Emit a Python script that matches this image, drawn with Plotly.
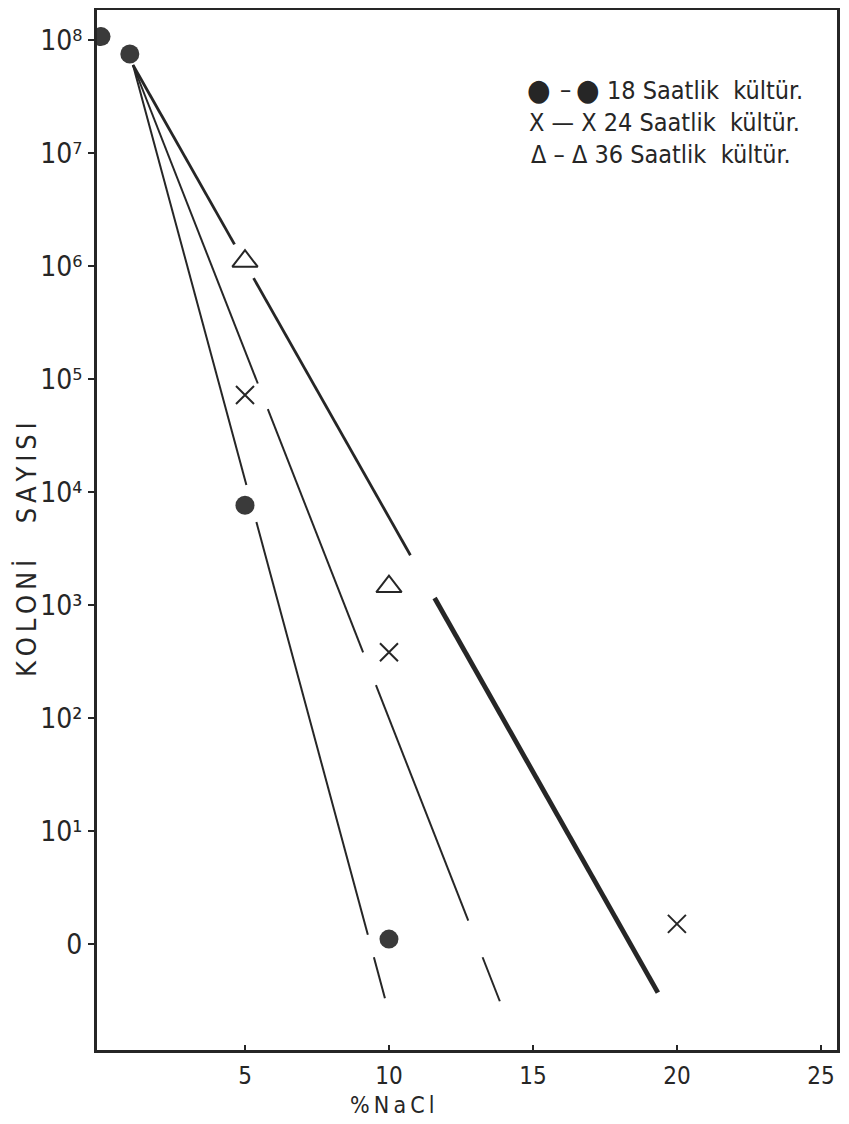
import numpy as np
import plotly.graph_objects as go

# ---- data ----
nacl_18 = [0, 1, 5, 10]
koloni_18 = [1.07e8, 7.5e7, 7.6e3, 1.1]
nacl_24 = [5, 10, 20]
koloni_24 = [7.2e4, 3.8e2, 1.5]
nacl_36 = [5, 10]
koloni_36 = [1.1e6, 1.45e3]

# drawn fit lines: common start, individual end points
fit_start_x = 1.11
fit_start_val = 6.0e7
fit_end_x = {"18": 9.86, "24": 13.85, "36": 19.34}
fit_end_val = {"18": 0.33, "24": 0.31, "36": 0.37}
# values where each drawn line is interrupted (upper, lower)
gaps = {
    "18": [(1.15e4, 5.4e3), (1.2, 0.76)],
    "24": [(9.1e4, 5.4e4), (3.8e2, 1.95e2), (1.6, 0.76)],
    "36": [(1.55e6, 7.8e5), (2.75e3, 1.15e3)],
}
seg_widths = {"18": [2, 2, 2], "24": [2, 2, 2, 2], "36": [2.8, 2.8, 4.8]}

y_tickvals = [1, 1e1, 1e2, 1e3, 1e4, 1e5, 1e6, 1e7, 1e8]
y_ticktext = ["0", "10¹", "10²", "10³", "10⁴", "10⁵", "10⁶", "10⁷", "10⁸"]
x_tickvals = [5, 10, 15, 20, 25]
x_ticktext = ["5", "10", "15", "20", "25"]

legend_texts = ["18 Saatlik  kültür.", "X — X 24 Saatlik  kültür.", "Δ – Δ 36 Saatlik  kültür."]

INK = "#262626"
FONT = "DejaVu Sans Condensed, Liberation Sans Narrow, sans-serif"

fig = go.Figure()

def x_at(key, val):
    e0, e1 = np.log10(fit_start_val), np.log10(fit_end_val[key])
    t = (np.log10(val) - e0) / (e1 - e0)
    return fit_start_x + t * (fit_end_x[key] - fit_start_x)

for key in ["18", "24", "36"]:
    pts = [fit_start_val]
    for a, b in gaps[key]:
        pts += [a, b]
    pts.append(fit_end_val[key])
    for i in range(0, len(pts), 2):
        v0, v1 = pts[i], pts[i + 1]
        fig.add_trace(go.Scatter(
            x=[x_at(key, v0), x_at(key, v1)], y=[v0, v1], mode="lines",
            line=dict(color=INK, width=seg_widths[key][i // 2]),
            showlegend=False, hoverinfo="skip"))

fig.add_trace(go.Scatter(x=nacl_18, y=koloni_18, mode="markers", name="18 Saatlik kültür",
                         marker=dict(symbol="circle", size=19, color="#3a3a3a"), showlegend=False))
fig.add_trace(go.Scatter(x=nacl_24, y=koloni_24, mode="markers", name="24 Saatlik kültür",
                         marker=dict(symbol="x-thin-open", size=18, color=INK,
                                     line=dict(color=INK, width=2)),
                         showlegend=False))
fig.add_trace(go.Scatter(x=nacl_36, y=koloni_36, mode="markers", name="36 Saatlik kültür",
                         marker=dict(symbol="triangle-up-open", size=22, color=INK,
                                     line=dict(color=INK, width=2)), showlegend=False))

# page offset of the figure (browser body margin)
OFF = 8
W, H = 849, 1124
L, R, T, B = 89, 20, 2, 82
pw, ph = W - L - R, H - T - B

def px(x):
    return (x - OFF - L) / pw

def py(y):
    return (H - B - (y - OFF)) / ph

annots = []
def ann(x, y, text, size, **kw):
    d = dict(x=px(x), y=py(y), xref="paper", yref="paper", text=text, showarrow=False,
             xanchor=kw.pop("xanchor", "center"), yanchor="middle",
             font=dict(family=FONT, size=size, color=INK))
    d.update(kw)
    annots.append(d)

# legend drawn as in the original
ann(539, 90, "●", 30)
ann(565, 90, "–", 25)
ann(588, 90, "●", 30)
ann(605, 91, legend_texts[0], 25, xanchor="left")
ann(527, 123, legend_texts[1], 25, xanchor="left")
ann(529, 155, legend_texts[2], 25, xanchor="left")

ann(27, 550, "K\u2009O\u2009L\u2009O\u2009N\u2009İ\u2003\u2002S\u2009A\u2009Y\u2009I\u2009S\u2009I", 27,
    textangle=-90)
ann(392, 1105, "%\u2009N\u2009a\u2009C\u2009l", 23)

fig.update_layout(
    width=W, height=H,
    margin=dict(l=L, r=R, t=T, b=B, autoexpand=False),
    paper_bgcolor="white", plot_bgcolor="white",
    annotations=annots,
    shapes=[dict(type="rect", xref="paper", yref="paper", x0=1.006, x1=1 + R / pw + 0.01,
                 y0=-B / ph, y1=1 + T / ph, fillcolor="#e3e3e3", line=dict(width=0), layer="below")],
    xaxis=dict(range=[-0.14, 25.56], tickvals=x_tickvals, ticktext=x_ticktext,
               ticks="inside", ticklen=5, tickwidth=2, tickcolor=INK,
               showline=True, linecolor=INK, linewidth=3, mirror=True,
               showgrid=False, zeroline=False, ticklabelstandoff=2,
               tickfont=dict(family=FONT, size=24, color=INK)),
    yaxis=dict(type="log", range=[-0.94, 8.265], tickvals=y_tickvals, ticktext=y_ticktext,
               ticks="outside", ticklen=6, tickwidth=2, tickcolor=INK,
               showline=True, linecolor=INK, linewidth=3, mirror=True,
               showgrid=False, zeroline=False,
               tickfont=dict(family=FONT, size=28, color=INK)),
)
fig.write_html("out.html")
